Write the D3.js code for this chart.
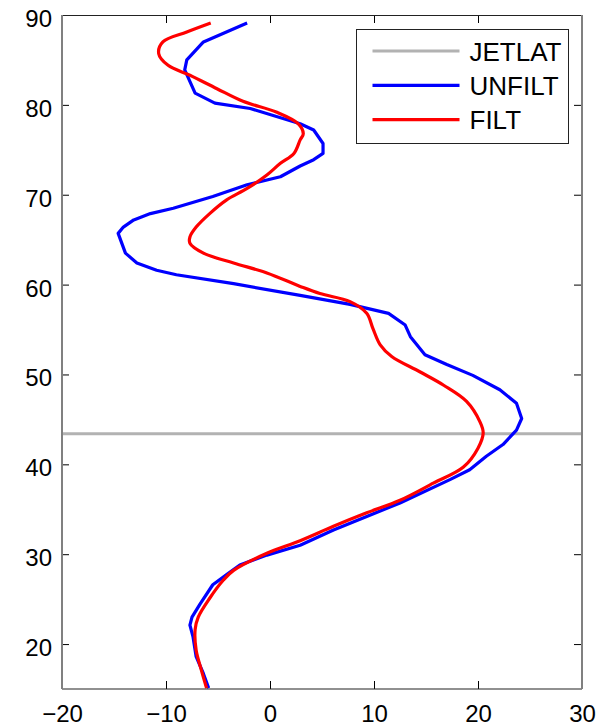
<!DOCTYPE html>
<html>
<head>
<meta charset="utf-8">
<script src="https://cdn.jsdelivr.net/npm/d3@7"></script>
<style>
  body { margin: 0; background: #fff; }
  text { font-family: "Liberation Sans", Arial, sans-serif; }
</style>
</head>
<body>
<div id="chart"></div>
<script>
// latitude of the jet
var jetLat = 43.4;

// UNFILT profile (value, latitude)
var unfiltLat = [89.1, 87.0, 85.0, 83.9, 81.3, 80.2, 79.6, 77.9, 77.2, 75.7, 74.6, 73.9, 73.2,
    72.0, 71.1, 69.8, 68.5, 67.9, 67.2, 66.4, 65.7, 63.5, 62.4, 61.6, 61.1, 60.1, 58.8,
    57.8, 56.8, 55.5, 54.2, 52.2, 51.1, 49.9, 48.3, 46.8, 45.1, 43.8, 42.2, 40.9, 39.4,
    38.3, 35.7, 34.2, 32.7, 31.0, 29.9, 28.8, 27.7, 26.6, 24.5, 23.0, 22.1, 20.8, 18.6, 16.7, 15.1];
var unfiltVal = [-2.2, -6.4, -8.0, -8.2, -7.2, -5.3, -1.9, 2.9, 4.2, 5.1, 5.1, 4.2, 2.9,
    1.0, -2.2, -5.5, -9.3, -11.5, -13.1, -14.1, -14.6, -13.9, -12.8, -10.9, -9.0, -3.5, 2.9,
    7.7, 11.4, 13.0, 13.5, 14.9, 17.0, 19.5, 22.1, 23.7, 24.2, 23.7, 22.4, 20.8, 19.2,
    17.3, 12.5, 9.3, 6.1, 2.9, -0.3, -2.9, -4.2, -5.5, -6.7, -7.5, -7.7, -7.4, -7.1, -6.4, -5.9];

// FILT profile (value, latitude)
var filtLat = [89.1, 88.1, 87.0, 85.7, 84.4, 83.3, 81.8, 80.4, 79.2, 77.9, 76.8, 76.1, 74.6,
    73.5, 72.2, 70.7, 69.4, 67.9, 66.4, 65.3, 64.6, 63.5, 62.4, 61.3, 59.8, 59.0, 58.1,
    56.8, 55.1, 53.3, 52.0, 50.3, 48.8, 47.0, 44.7, 43.5, 41.8, 39.7, 37.9, 36.0, 34.6,
    33.1, 31.5, 30.1, 28.2, 27.1, 25.1, 23.0, 21.6, 19.3, 17.1, 15.1];
var filtVal = [-5.7, -8.0, -10.3, -10.7, -9.8, -7.7, -5.1, -2.6, 0.6, 2.7, 3.2, 2.9, 2.3,
    1.0, -0.3, -2.2, -4.2, -5.8, -7.1, -7.7, -7.7, -6.4, -3.5, -0.3, 2.9, 4.8, 7.7,
    9.3, 9.9, 10.6, 11.7, 14.4, 16.7, 18.9, 20.2, 20.5, 20.0, 18.6, 15.7, 12.5, 9.3,
    6.1, 2.9, -0.3, -3.5, -4.5, -5.8, -6.9, -7.2, -7.1, -6.6, -6.1];

var xTicks = [-20, -10, 0, 10, 20, 30];
var yTicks = [20, 30, 40, 50, 60, 70, 80, 90];
var legendNames = ["JETLAT", "UNFILT", "FILT"];
var legendColors = ["#b2b2b2", "#0000ff", "#ff0000"];

var margin = {top: 15, right: 19, bottom: 39, left: 62},
    width = 601 - margin.left - margin.right,
    height = 728 - margin.top - margin.bottom;

var svg = d3.select("#chart")
  .append("svg")
    .attr("width", 601)
    .attr("height", 728)
  .append("g")
    .attr("transform", "translate(" + margin.left + "," + margin.top + ")");

var x = d3.scaleLinear().domain([-20, 30]).range([0, width]);
var y = d3.scaleLinear().domain([15, 90]).range([height, 0]);

// clip the curves to the axes box
svg.append("clipPath").attr("id", "clip")
  .append("rect").attr("width", width).attr("height", height);

// jet latitude line
svg.append("line")
    .attr("x1", 0).attr("x2", width)
    .attr("y1", y(jetLat)).attr("y2", y(jetLat))
    .attr("stroke", legendColors[0])
    .attr("stroke-width", 3);

var series = [
  {vals: unfiltVal, lats: unfiltLat, color: legendColors[1], curve: d3.curveLinear},
  {vals: filtVal, lats: filtLat, color: legendColors[2], curve: d3.curveCatmullRom.alpha(0.5)}
];
series.forEach(function(s) {
  var line = d3.line()
      .curve(s.curve)
      .x(function(d) { return x(d[0]); })
      .y(function(d) { return y(d[1]); });
  svg.append("path")
      .datum(d3.zip(s.vals, s.lats))
      .attr("clip-path", "url(#clip)")
      .attr("fill", "none")
      .attr("stroke", s.color)
      .attr("stroke-width", 3.2)
      .attr("stroke-linejoin", "round")
      .attr("d", line);
});

// axes: ticks point inward like the original
var bottomAxis = svg.append("g")
    .attr("transform", "translate(0," + height + ")")
    .call(d3.axisBottom(x).tickValues(xTicks).tickSizeInner(-8).tickSizeOuter(0).tickPadding(0));
bottomAxis.selectAll("text").attr("y", 33).attr("dy", null).style("font-size", "24px");

svg.append("g")
    .call(d3.axisTop(x).tickValues(xTicks).tickSizeInner(-8).tickSizeOuter(0).tickFormat(""));

var leftAxis = svg.append("g")
    .call(d3.axisLeft(y).tickValues(yTicks).tickSizeInner(-7).tickSizeOuter(0).tickPadding(10));
leftAxis.selectAll("text").attr("x", -10).attr("dy", "0.48em").style("font-size", "24px");

svg.append("g")
    .attr("transform", "translate(" + width + ",0)")
    .call(d3.axisRight(y).tickValues(yTicks).tickSizeInner(-8).tickSizeOuter(0).tickFormat(""));

svg.selectAll(".domain").remove();
svg.selectAll(".tick line").attr("stroke", "#000");
svg.selectAll(".tick text").attr("fill", "#000");

// box
svg.append("line").attr("x1", 0).attr("x2", width).attr("y1", 0.5).attr("y2", 0.5)
    .attr("stroke", "#222").attr("stroke-width", 1.2);
svg.append("line").attr("x1", 0).attr("x2", width).attr("y1", height).attr("y2", height)
    .attr("stroke", "#222").attr("stroke-width", 1.2);
svg.append("line").attr("x1", 0).attr("x2", 0).attr("y1", 0).attr("y2", height)
    .attr("stroke", "#808080").attr("stroke-width", 2);
svg.append("line").attr("x1", width).attr("x2", width).attr("y1", 0).attr("y2", height)
    .attr("stroke", "#808080").attr("stroke-width", 2);

// legend
var legend = svg.append("g").attr("transform", "translate(294.5,14.5)");
legend.append("rect")
    .attr("width", 212).attr("height", 114)
    .attr("fill", "#fff")
    .attr("stroke", "#222")
    .attr("stroke-width", 1);
legendNames.forEach(function(name, i) {
  var ly = 21.5 + i * 34.3;
  legend.append("line")
      .attr("x1", 16).attr("x2", 103)
      .attr("y1", ly).attr("y2", ly)
      .attr("stroke", legendColors[i])
      .attr("stroke-width", 3.2);
  legend.append("text")
      .attr("x", 113).attr("y", ly + 9.5)
      .style("font-size", "26px")
      .attr("fill", "#000")
      .text(name);
});
</script>
</body>
</html>
